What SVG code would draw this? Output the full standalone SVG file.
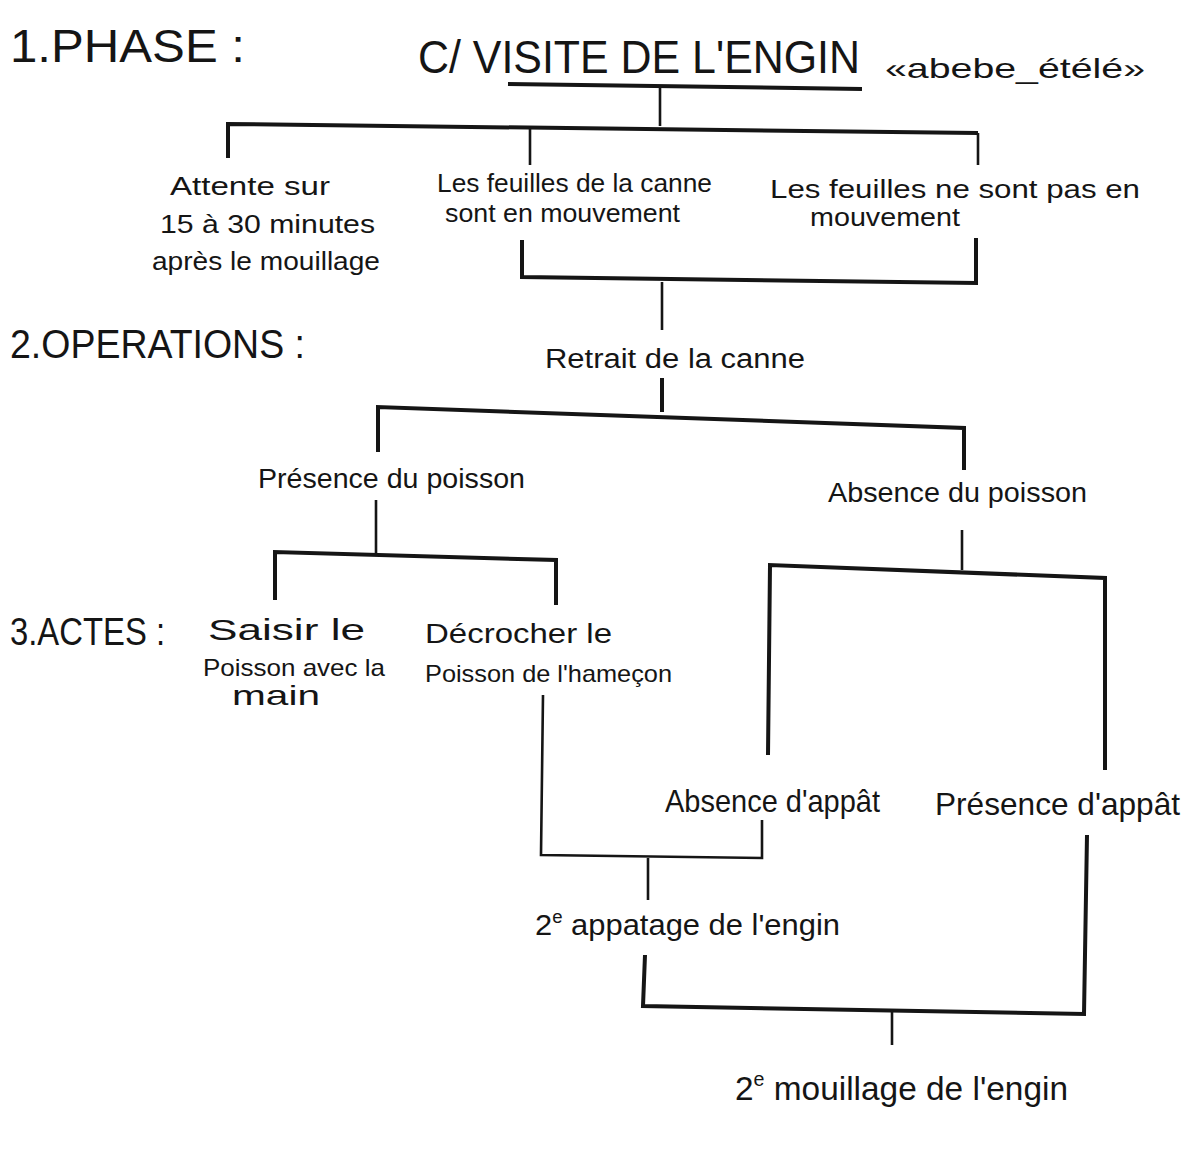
<svg xmlns="http://www.w3.org/2000/svg" width="1198" height="1151" viewBox="0 0 1198 1151">
<style>
.t{font-family:"Liberation Sans","DejaVu Sans",sans-serif;fill:#151515;}
.h{font-weight:normal;}
.c{fill:none;stroke:#151515;stroke-width:2.6;stroke-linejoin:miter;stroke-linecap:butt;}
.b{fill:none;stroke:#151515;stroke-width:4;}
</style>
<rect width="1198" height="1151" fill="#ffffff"/>
<g id="phase-label"><text class="t h" x="10" y="62" font-size="46" textLength="235" lengthAdjust="spacingAndGlyphs">1.PHASE :</text></g>
<g id="title">
<text class="t h" x="418" y="73" font-size="46" textLength="442" lengthAdjust="spacingAndGlyphs">C/ VISITE DE L'ENGIN</text>
<line class="b" x1="508" y1="84" x2="862" y2="89"/>
</g>
<g id="title-name"><text class="t" x="885" y="78" font-size="28" textLength="260" lengthAdjust="spacingAndGlyphs">«abebe_étélé»</text></g>
<g id="attente">
<text class="t" x="170" y="195" font-size="26" textLength="160" lengthAdjust="spacingAndGlyphs">Attente sur</text>
<text class="t" x="160" y="233" font-size="26" textLength="215" lengthAdjust="spacingAndGlyphs">15 à 30 minutes</text>
<text class="t" x="152" y="270" font-size="26" textLength="228" lengthAdjust="spacingAndGlyphs">après le mouillage</text>
</g>
<g id="feuilles-mvt">
<text class="t" x="437" y="192" font-size="25" textLength="275" lengthAdjust="spacingAndGlyphs">Les feuilles de la canne</text>
<text class="t" x="445" y="222" font-size="25" textLength="235" lengthAdjust="spacingAndGlyphs">sont en mouvement</text>
</g>
<g id="feuilles-pas">
<text class="t" x="770" y="198" font-size="26" textLength="370" lengthAdjust="spacingAndGlyphs">Les feuilles ne sont pas en</text>
<text class="t" x="810" y="226" font-size="25" textLength="150" lengthAdjust="spacingAndGlyphs">mouvement</text>
</g>
<g id="operations-label"><text class="t h" x="10" y="358" font-size="40" textLength="295" lengthAdjust="spacingAndGlyphs">2.OPERATIONS :</text></g>
<g id="retrait"><text class="t" x="545" y="368" font-size="27" textLength="260" lengthAdjust="spacingAndGlyphs">Retrait de la canne</text></g>
<g id="presence-poisson"><text class="t" x="258" y="488" font-size="28" textLength="267" lengthAdjust="spacingAndGlyphs">Présence du poisson</text></g>
<g id="absence-poisson"><text class="t" x="828" y="502" font-size="28" textLength="259" lengthAdjust="spacingAndGlyphs">Absence du poisson</text></g>
<g id="actes-label"><text class="t h" x="10" y="645" font-size="38" textLength="155" lengthAdjust="spacingAndGlyphs">3.ACTES :</text></g>
<g id="saisir">
<text class="t" x="208" y="640" font-size="30" textLength="157" lengthAdjust="spacingAndGlyphs">Saisir le</text>
<text class="t" x="203" y="676" font-size="24" textLength="182" lengthAdjust="spacingAndGlyphs">Poisson avec la</text>
<text class="t" x="232" y="705" font-size="28" textLength="88" lengthAdjust="spacingAndGlyphs">main</text>
</g>
<g id="decrocher">
<text class="t" x="425" y="643" font-size="28" textLength="187" lengthAdjust="spacingAndGlyphs">Décrocher le</text>
<text class="t" x="425" y="682" font-size="24" textLength="247" lengthAdjust="spacingAndGlyphs">Poisson de l'hameçon</text>
</g>
<g id="absence-appat"><text class="t" x="665" y="812" font-size="32" textLength="215" lengthAdjust="spacingAndGlyphs">Absence d'appât</text></g>
<g id="presence-appat"><text class="t" x="935" y="815" font-size="32" textLength="245" lengthAdjust="spacingAndGlyphs">Présence d'appât</text></g>
<g id="appatage"><text class="t" x="535" y="935" font-size="30" textLength="305" lengthAdjust="spacingAndGlyphs">2<tspan dy="-12" font-size="18">e</tspan><tspan dy="12"> appatage de l'engin</tspan></text></g>
<g id="mouillage"><text class="t" x="735" y="1100" font-size="34" textLength="333" lengthAdjust="spacingAndGlyphs">2<tspan dy="-14" font-size="20">e</tspan><tspan dy="14"> mouillage de l'engin</tspan></text></g>
<g id="connectors">
<line class="c" x1="660" y1="88" x2="660" y2="126"/>
<polyline class="b" points="228,158 228,124 978,133"/>
<line class="c" x1="530" y1="128" x2="530" y2="165"/>
<line class="c" x1="978" y1="133" x2="978" y2="165"/>
<polyline class="b" points="522,240 522,277 976,283 976,238"/>
<line class="c" x1="662" y1="282" x2="662" y2="330"/>
<line class="b" x1="662" y1="378" x2="662" y2="412"/>
<polyline class="b" points="378,452 378,407 964,428 964,470"/>
<line class="c" x1="376" y1="500" x2="376" y2="555"/>
<polyline class="b" points="275,600 275,552 556,560 556,605"/>
<line class="c" x1="962" y1="530" x2="962" y2="570"/>
<polyline class="b" points="768,755 770,565 1105,578 1105,770"/>
<polyline class="c" points="543,695 541,855 762,858 762,820"/>
<line class="c" x1="648" y1="858" x2="648" y2="900"/>
<polyline class="b" points="645,955 643,1006 1084,1014 1087,835"/>
<line class="c" x1="892" y1="1009" x2="892" y2="1045"/>
</g>
</svg>
